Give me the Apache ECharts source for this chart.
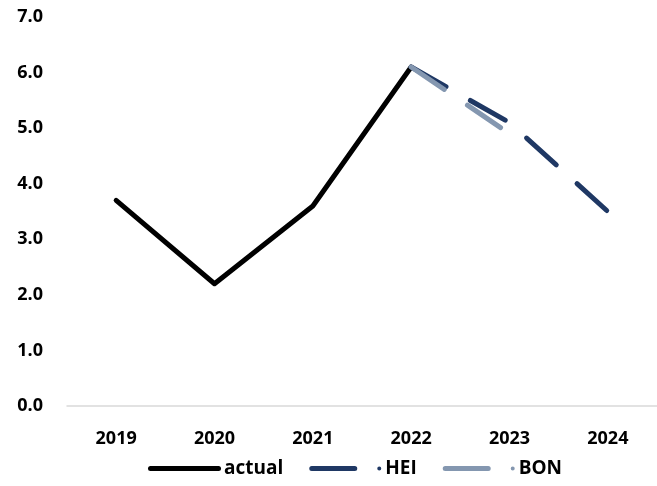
<!DOCTYPE html>
<html>
<head>
<meta charset="utf-8">
<script src="https://cdn.jsdelivr.net/npm/echarts@6/dist/echarts.min.js"></script>
<style>
  html, body { margin: 0; padding: 0; background: #ffffff; }
  #chart { width: 657px; height: 486px; }
</style>
</head>
<body>
<div id="chart"></div>
<script>
// Years on the category axis
const years = ['2019', '2020', '2021', '2022', '2023', '2024'];
// Observed values up to 2022
const actual = [3.7, 2.2, 3.6, 6.1, null, null];
// Forecast paths starting from the last observation
const hei = [null, null, null, 6.1, 5.1, 3.5];
const bon = [null, null, null, 6.1, 4.9, null];
// Value axis ticks
const yMin = 0, yMax = 7, yStep = 1;

const FONT = '"Open Sans", Lato, "Liberation Sans", sans-serif';
const NAVY = '#1f3864';
const STEEL = '#8497b0';
const DASH = [40, 28];

// Legend glyphs: a solid bar, or a short bar followed by a dot
const barIcon = 'path://M2.5,0 L70.5,0 A2.5,2.5 0 0 1 70.5,5 L2.5,5 A2.5,2.5 0 0 1 2.5,0 Z';
const dashDotIcon = 'path://M2.5,0 L45.5,0 A2.5,2.5 0 0 1 45.5,5 L2.5,5 A2.5,2.5 0 0 1 2.5,0 Z ' +
  'M70,0.5 A2,2 0 1 1 70,4.5 A2,2 0 1 1 70,0.5 Z M73,0 L73,5 Z';

const chart = echarts.init(document.getElementById('chart'), null, { renderer: 'canvas' });
chart.setOption({
  animation: false,
  backgroundColor: '#ffffff',
  grid: { left: 67, right: 0, top: 17, bottom: 80, containLabel: false },
  legend: {
    top: 454,
    left: 143,
    itemWidth: 73,
    itemHeight: 5,
    itemGap: 26,
    textStyle: { fontFamily: FONT, fontWeight: 'bold', fontSize: 19, color: '#000000', padding: [0, 0, 0, -2] },
    data: [
      { name: 'actual', icon: barIcon },
      { name: 'HEI', icon: dashDotIcon },
      { name: 'BON', icon: dashDotIcon }
    ]
  },
  xAxis: {
    type: 'category',
    data: years,
    boundaryGap: true,
    axisLine: { lineStyle: { color: '#d9d9d9', width: 1.5 } },
    axisTick: { show: false },
    axisLabel: { margin: 24, fontFamily: FONT, fontWeight: 'bold', fontSize: 18, color: '#000000' },
    splitLine: { show: false }
  },
  yAxis: {
    type: 'value',
    min: yMin,
    max: yMax,
    interval: yStep,
    axisLine: { show: false },
    axisTick: { show: false },
    splitLine: { show: false },
    axisLabel: {
      margin: 24,
      fontFamily: FONT, fontWeight: 'bold', fontSize: 18, color: '#000000',
      formatter: v => v.toFixed(1)
    }
  },
  series: [
    {
      name: 'actual', type: 'line', data: actual,
      showSymbol: false, symbol: 'none',
      color: '#000000',
      lineStyle: { color: '#000000', width: 5, cap: 'round', join: 'round' }
    },
    {
      name: 'HEI', type: 'line', data: hei,
      showSymbol: false, symbol: 'none',
      color: NAVY,
      lineStyle: { color: NAVY, width: 5, type: DASH, cap: 'round', join: 'round' }
    },
    {
      name: 'BON', type: 'line', data: bon,
      showSymbol: false, symbol: 'none',
      color: STEEL,
      lineStyle: { color: STEEL, width: 5, type: DASH, cap: 'round', join: 'round' }
    }
  ]
});
</script>
</body>
</html>
